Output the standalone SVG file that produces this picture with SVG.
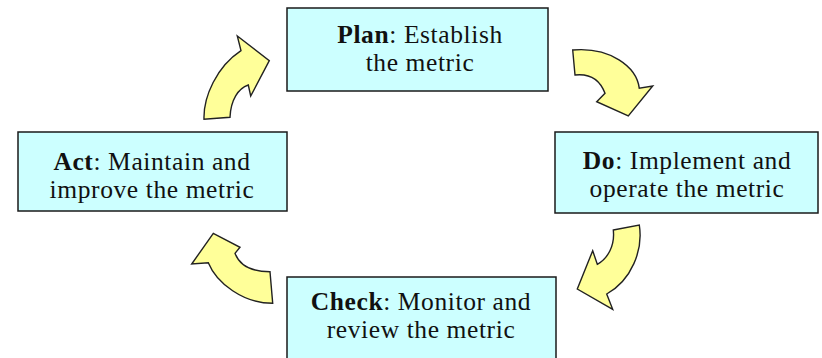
<svg xmlns="http://www.w3.org/2000/svg" width="822" height="358" viewBox="0 0 822 358">
  <style>
    .box { fill: #ccffff; stroke: #1a1a1a; stroke-width: 1.5; }
    .label { font-family: "Liberation Serif", "Times New Roman", serif; font-size: 25.5px; letter-spacing: 0.6px; fill: #111; text-anchor: middle; }
    .label .b { font-weight: bold; }
    .cycle { fill: #ffff99; stroke: #222; stroke-width: 1.4; stroke-linejoin: miter; }
  </style>
  <rect width="822" height="358" fill="#ffffff"/>

  <!-- curved block arrows of the cycle -->
  <g id="connectors">
    <path class="cycle" d="M204,119.3 C203.3,96.7 216.7,66.7 241,50.7 L237.3,36 L269.3,60.7 L250.7,96 L248.3,85 C238.3,88.3 230.7,100 230,117.3 Z"/>
    <path class="cycle" d="M572.7,50 C610,46.7 636.7,66.7 639.3,88.3 L652.7,86 L628.3,116 L596.7,101.7 L605,93.3 C600,80 590,73.3 575,75 Z"/>
    <path class="cycle" d="M613.3,230 L639.3,225 C643.3,250 631.7,280 606.7,294 L612.7,309.3 L577.3,289 L592.7,250.7 L597.3,264.3 C608.3,258.3 615,245 613.3,230 Z"/>
    <path class="cycle" d="M270,271.7 L272.7,303.3 C243.3,303.3 216.7,283.3 208.3,262.7 L191.7,264 L213.3,233.3 L240,247.3 L235,253.3 C240,266.7 253.3,271.7 270,271.7 Z"/>
  </g>

  <g id="plan">
    <rect class="box" x="287" y="8" width="261" height="83"/>
    <text class="label" x="420" y="43"><tspan class="b">Plan</tspan>: Establish</text>
    <text class="label" x="420" y="71">the metric</text>
  </g>

  <g id="do">
    <rect class="box" x="555" y="132" width="263" height="81"/>
    <text class="label" x="687" y="169"><tspan class="b">Do</tspan>: Implement and</text>
    <text class="label" x="687" y="197">operate the metric</text>
  </g>

  <g id="check">
    <rect class="box" x="287" y="277" width="269" height="84"/>
    <text class="label" x="421" y="310"><tspan class="b">Check</tspan>: Monitor and</text>
    <text class="label" x="421" y="338">review the metric</text>
  </g>

  <g id="act">
    <rect class="box" x="18" y="132" width="269" height="79"/>
    <text class="label" x="152" y="170"><tspan class="b">Act</tspan>: Maintain and</text>
    <text class="label" x="152" y="198">improve the metric</text>
  </g>
</svg>
